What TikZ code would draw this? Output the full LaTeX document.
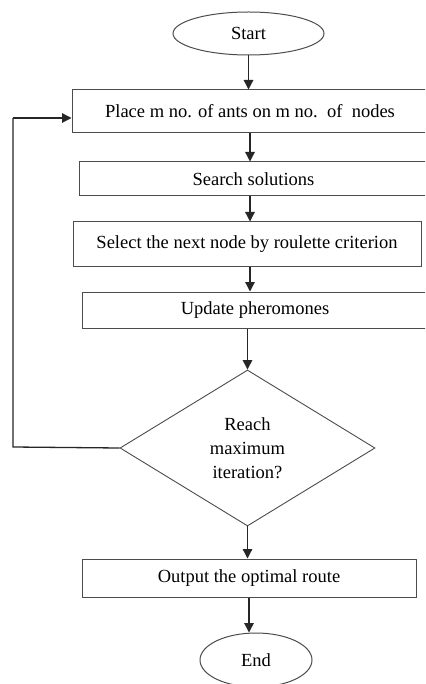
\documentclass[tikz,border=0pt]{standalone}
\usepackage{fontspec}
\setmainfont{Liberation Serif}
\usetikzlibrary{shapes.geometric,arrows.meta}
\begin{document}
\begin{tikzpicture}[x=1pt,y=-1pt,
  every node/.style={font=\fontsize{18.5}{24}\selectfont, text=black},
  boxst/.style={draw=black!70, line width=1pt, rectangle, inner sep=0pt},
  ovalst/.style={draw=black!70, line width=1pt, ellipse, inner sep=0pt},
  decst/.style={draw=black!70, line width=0.9pt, diamond, inner sep=0pt, aspect=1.63, align=center},
  arr/.style={draw=black!85, line width=1.3pt, -{Triangle[length=9.5pt,width=9.5pt]}}]
\useasboundingbox (0,0) rectangle (425,684);
\clip (0,0) rectangle (425,684);
\fill[white] (0,0) rectangle (425,684);
\node[ovalst, minimum width=151pt, minimum height=43pt] (start) at (248.5,33.5) {Start};
\node[boxst, minimum width=356pt, minimum height=43pt] (b1) at (250,111.5) {Place m no. of ants on m no.\ \ of\ \ nodes};
\node[boxst, minimum width=349pt, minimum height=34pt] (b2) at (253.5,179) {Search solutions};
\node[boxst, minimum width=348pt, minimum height=44pt] (b3) at (247,244) {Select the next node by roulette criterion};
\node[boxst, minimum width=346pt, minimum height=36pt] (b4) at (255,310) {Update pheromones};
\node[decst, minimum width=255pt, minimum height=156pt] (dec) at (247.5,448) {Reach\\maximum\\iteration?};
\node[boxst, minimum width=334pt, minimum height=38pt] (b5) at (249,578) {Output the optimal route};
\node[ovalst, minimum width=112pt, minimum height=54pt] (end) at (256,660) {End};
\coordinate (lp1) at (13,447);
\coordinate (lp2) at (13,118);
\draw[arr] (start.south) -- (start.south |- b1.north);
\draw[arr] (250,133) -- (b2.north -| 250,0);
\draw[arr] (b2.south -| 250,0) -- (b3.north -| 250,0);
\draw[arr] (b3.south -| 250,0) -- (b4.north -| 250,0);
\draw[arr] (b4.south -| dec.north) -- (dec.north);
\draw[arr] (dec.south) -- (b5.north -| dec.south);
\draw[arr] (b5.south) -- (end.north -| b5.south);
\draw[draw=black!85, line width=1.3pt] (dec.west) -- (lp1) -- (lp2);
\draw[arr] (lp2) -- (lp2 -| b1.west);
\end{tikzpicture}
\end{document}
